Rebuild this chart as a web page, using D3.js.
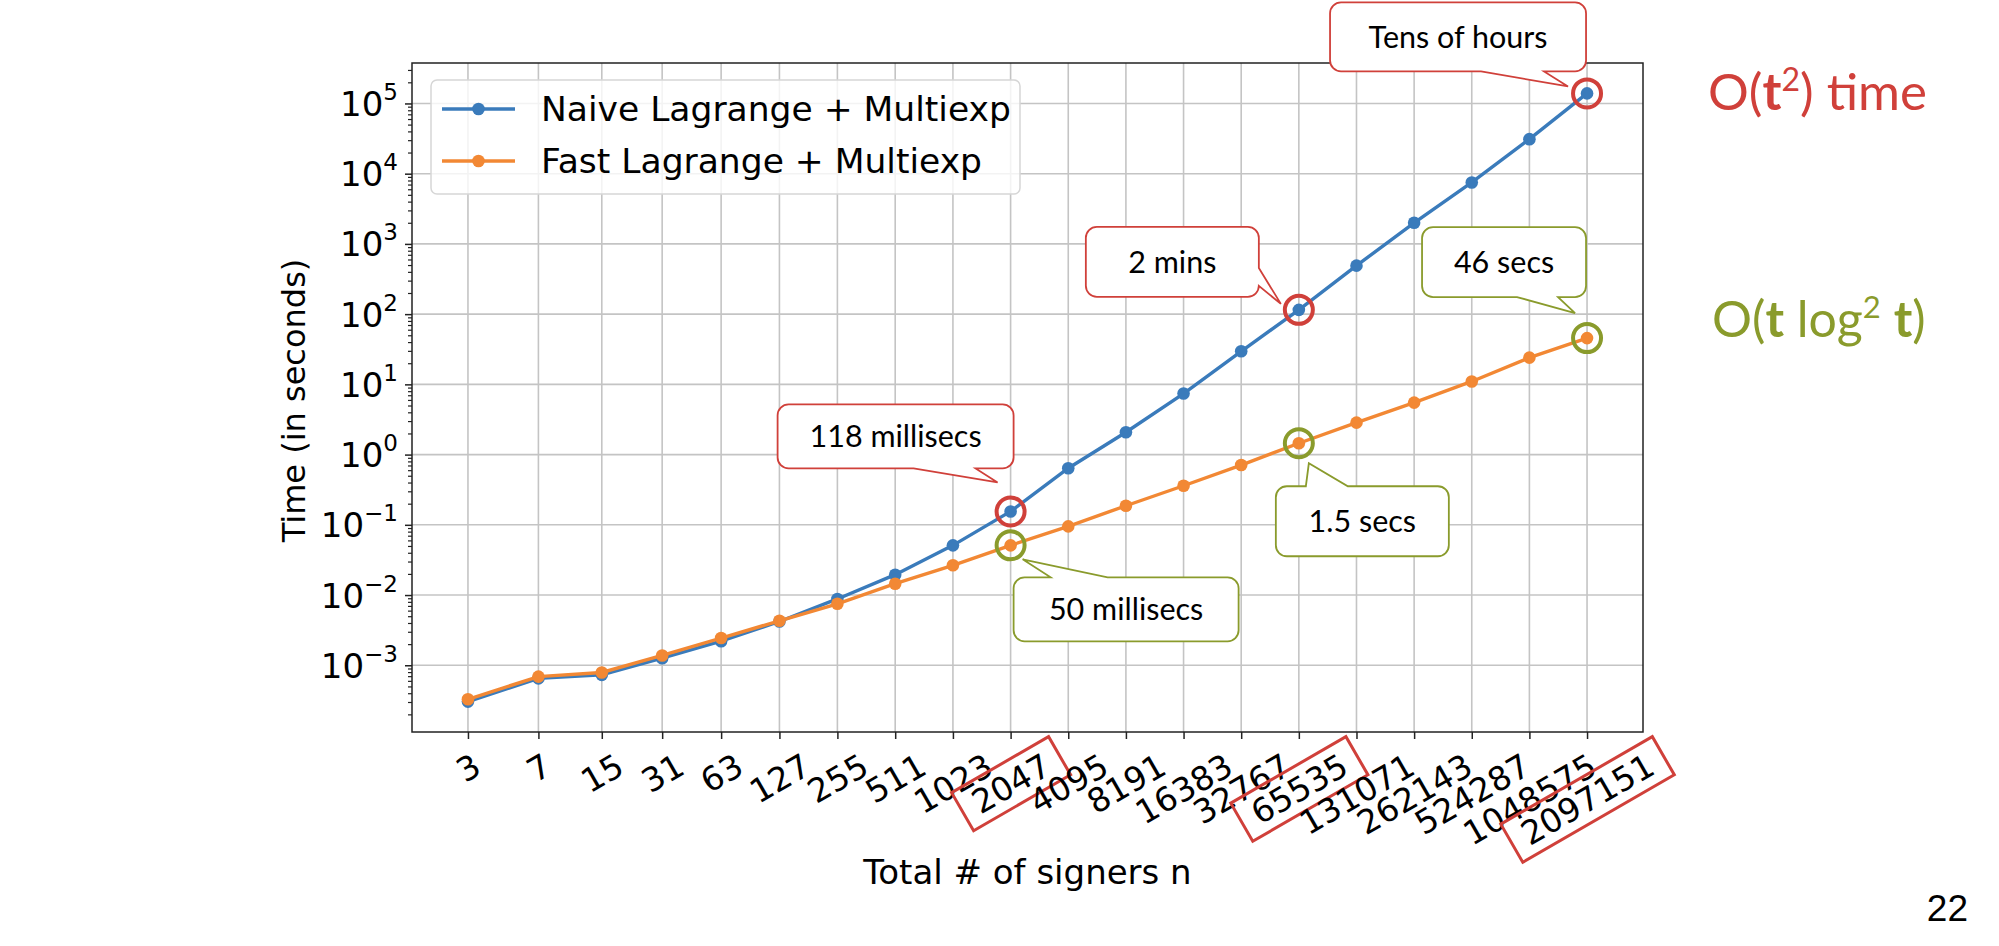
<!DOCTYPE html>
<html>
<head>
<meta charset="utf-8">
<title>Lagrange + Multiexp timing</title>
<style>
  body { margin: 0; background: #fff; }
  svg { display: block; }
</style>
</head>
<body>
<script src="https://cdn.jsdelivr.net/npm/d3@7"></script>
<script>
// values
const signers = [3, 7, 15, 31, 63, 127, 255, 511, 1023, 2047, 4095, 8191,
  16383, 32767, 65535, 131071, 262143, 524287, 1048575, 2097151];
const naiveTimes = [3.04e-4, 6.5e-4, 7.3e-4, 1.26e-3, 2.2e-3, 4.2e-3, 8.8e-3,
  0.0195, 0.051, 0.155, 0.64, 2.08, 7.4, 29.6, 115, 490, 2000, 7500, 31000, 139000];
const fastTimes = [3.28e-4, 6.9e-4, 7.9e-4, 1.38e-3, 2.44e-3, 4.3e-3, 7.5e-3,
  0.0145, 0.0265, 0.051, 0.095, 0.187, 0.36, 0.71, 1.45, 2.85, 5.5, 11, 24, 45.6];
const seriesNames = ["Naive Lagrange + Multiexp", "Fast Lagrange + Multiexp"];
const yMajorExps = [-3, -2, -1, 0, 1, 2, 3, 4, 5];
const highlighted = [2047, 65535, 2097151];

const W = 1999, H = 946;
const plotL = 412, plotR = 1643, plotT = 63, plotB = 732;
const blue = "#3a7bbb", orange = "#f28834";
const red = "#d0403a", olive = "#8a9b2c";
const mplFont = "DejaVu Sans";
const fs = 34;

// callouts: box [dx, dy, w, h] relative to the marked point, tail base and tip too
const callouts = [
  {text: "Tens of hours", s: 0, n: 2097151, color: red, box: [-257, -91, 256, 69], side: "bottom", base: [-106, -43], tip: [-19, -7]},
  {text: "2 mins", s: 0, n: 65535, color: red, box: [-213, -83, 173, 70], side: "right", base: [-42, -24], tip: [-18, -6]},
  {text: "46 secs", s: 1, n: 2097151, color: olive, box: [-165, -111, 164, 70], side: "bottom", base: [-70, -29], tip: [-12, -25]},
  {text: "118 millisecs", s: 0, n: 2047, color: red, box: [-233, -107, 236, 64], side: "bottom", base: [-97, -35], tip: [-13, -29]},
  {text: "50 millisecs", s: 1, n: 2047, color: olive, box: [3, 32, 225, 64], side: "top", base: [40, 97], tip: [12, 14]},
  {text: "1.5 secs", s: 1, n: 65535, color: olive, box: [-23, 43, 173, 70], side: "top", base: [7, 49], tip: [10, 20]}
];

const svg = d3.select("body").append("svg").attr("width", W).attr("height", H);

// log axes with matplotlib-like 5% margins
const lx = d3.extent(signers).map(Math.log2);
const mx = (lx[1] - lx[0]) * 0.05;
const x = d3.scaleLog().base(2)
  .domain([Math.pow(2, lx[0] - mx), Math.pow(2, lx[1] + mx)])
  .range([plotL, plotR]);

const ly = d3.extent(naiveTimes.concat(fastTimes)).map(Math.log10);
const my = (ly[1] - ly[0]) * 0.05;
const y = d3.scaleLog()
  .domain([Math.pow(10, ly[0] - my), Math.pow(10, ly[1] + my)])
  .range([plotB, plotT]);

const series = [naiveTimes, fastTimes];
const colors = [blue, orange];
const yMajors = yMajorExps.map(e => Math.pow(10, e));

// grid
const grid = svg.append("g").attr("stroke", "#c4c4c4").attr("stroke-width", 1.6);
grid.selectAll(".vx").data(signers).enter().append("line")
  .attr("x1", d => x(d)).attr("x2", d => x(d))
  .attr("y1", plotT).attr("y2", plotB);
grid.selectAll(".hy").data(yMajors).enter().append("line")
  .attr("x1", plotL).attr("x2", plotR)
  .attr("y1", d => y(d)).attr("y2", d => y(d));

// x axis
const xAxisG = svg.append("g").attr("transform", `translate(0,${plotB})`)
  .call(d3.axisBottom(x).tickValues(signers).tickFormat(d => String(d)).tickSize(7));
xAxisG.select(".domain").remove();
xAxisG.selectAll(".tick line").attr("stroke", "#222").attr("stroke-width", 1.5);
xAxisG.selectAll(".tick text")
  .attr("font-family", mplFont).attr("font-size", 33).attr("fill", "#000")
  .each(function () {
    const w = this.getComputedTextLength();
    const h = 33 * 1.17;
    const cy = 14 + (w * 0.5 + h * 0.866) / 2;
    d3.select(this).attr("x", 0).attr("y", 0).attr("dy", null)
      .attr("text-anchor", "middle").attr("dominant-baseline", "central")
      .attr("transform", `translate(0,${cy}) rotate(-30)`);
    this.__w = w;
    this.__cy = cy;
  });

// y axis: minor ticks, major ticks, labels
const yMinors = [];
for (let e = -5; e <= 6; e++) {
  for (let m = 2; m <= 9; m++) {
    const v = m * Math.pow(10, e);
    if (v > y.domain()[0] && v < y.domain()[1]) yMinors.push(v);
  }
}
const yMinorG = svg.append("g").attr("transform", `translate(${plotL},0)`)
  .call(d3.axisLeft(y).tickValues(yMinors).tickFormat("").tickSize(4));
yMinorG.select(".domain").remove();
yMinorG.selectAll(".tick line").attr("stroke", "#222").attr("stroke-width", 1.2);

const yAxisG = svg.append("g").attr("transform", `translate(${plotL},0)`)
  .call(d3.axisLeft(y).tickValues(yMajors).tickFormat("").tickSize(7));
yAxisG.select(".domain").remove();
yAxisG.selectAll(".tick line").attr("stroke", "#222").attr("stroke-width", 1.5);
yAxisG.selectAll(".tick text").remove();
yAxisG.selectAll(".tick").each(function (d, i) {
  const t = d3.select(this).append("text")
    .attr("x", -14).attr("y", 12)
    .attr("text-anchor", "end")
    .attr("font-family", mplFont).attr("font-size", fs).attr("fill", "#000");
  const e = yMajorExps[i];
  t.append("tspan").text("10");
  t.append("tspan").attr("dy", -16).attr("font-size", 23)
    .text(e < 0 ? "\u2212" + Math.abs(e) : String(e));
});

// frame
svg.append("rect").attr("x", plotL).attr("y", plotT)
  .attr("width", plotR - plotL).attr("height", plotB - plotT)
  .attr("fill", "none").attr("stroke", "#222").attr("stroke-width", 1.5);

// lines + markers
const line = d3.line().x((d, i) => x(signers[i])).y(d => y(d));
series.forEach((vals, s) => {
  svg.append("path").datum(vals)
    .attr("d", line).attr("fill", "none")
    .attr("stroke", colors[s]).attr("stroke-width", 3.4);
  svg.append("g").selectAll("circle").data(vals).enter().append("circle")
    .attr("cx", (d, i) => x(signers[i])).attr("cy", d => y(d))
    .attr("r", 6.3).attr("fill", colors[s]);
});

// legend
const legend = svg.append("g");
legend.append("rect").attr("x", 431).attr("y", 80).attr("width", 589).attr("height", 114)
  .attr("rx", 6).attr("fill", "#fff").attr("fill-opacity", 0.8)
  .attr("stroke", "#d6d6d6").attr("stroke-width", 1.5);
seriesNames.forEach((name, s) => {
  const ry = 109 + s * 52;
  legend.append("line").attr("x1", 442).attr("x2", 515).attr("y1", ry).attr("y2", ry)
    .attr("stroke", colors[s]).attr("stroke-width", 3.4);
  legend.append("circle").attr("cx", 478.5).attr("cy", ry).attr("r", 6.3).attr("fill", colors[s]);
  legend.append("text").attr("x", 541).attr("y", ry + 12)
    .attr("font-family", mplFont).attr("font-size", 34.5).attr("fill", "#000")
    .text(name);
});

// axis titles
svg.append("text").attr("x", (plotL + plotR) / 2).attr("y", 884)
  .attr("text-anchor", "middle")
  .attr("font-family", mplFont).attr("font-size", fs).attr("fill", "#000")
  .text("Total # of signers n");
svg.append("text")
  .attr("transform", `translate(305,${(plotT + plotB) / 2 + 3}) rotate(-90)`)
  .attr("text-anchor", "middle")
  .attr("font-family", mplFont).attr("font-size", 32).attr("fill", "#000")
  .text("Time (in seconds)");

// red boxes around highlighted tick labels
xAxisG.selectAll(".tick").filter(d => highlighted.includes(d)).each(function () {
  const txt = d3.select(this).select("text").node();
  const w = txt.__w + 28, h = 44;
  d3.select(this).append("rect")
    .attr("transform", `translate(0,${txt.__cy}) rotate(-30)`)
    .attr("x", -w / 2).attr("y", -h / 2).attr("width", w).attr("height", h)
    .attr("fill", "none").attr("stroke", red).attr("stroke-width", 3);
});

// circles round highlighted points
series.forEach((vals, s) => {
  svg.append("g").selectAll("circle")
    .data(signers.map((n, i) => ({n, v: vals[i]})).filter(d => highlighted.includes(d.n)))
    .enter().append("circle")
    .attr("cx", d => x(d.n)).attr("cy", d => y(d.v)).attr("r", 14)
    .attr("fill", "none").attr("stroke", s === 0 ? red : olive).attr("stroke-width", 4);
});

// callouts
function calloutPath(x0, y0, w, h, r, side, b0, b1, tx, ty) {
  const x1 = x0 + w, y1 = y0 + h;
  const p = d3.path();
  p.moveTo(x0 + r, y0);
  if (side === "top") { p.lineTo(b0, y0); p.lineTo(tx, ty); p.lineTo(b1, y0); }
  p.lineTo(x1 - r, y0);
  p.arcTo(x1, y0, x1, y0 + r, r);
  if (side === "right") { p.lineTo(x1, b0); p.lineTo(tx, ty); p.lineTo(x1, b1); }
  p.lineTo(x1, y1 - r);
  p.arcTo(x1, y1, x1 - r, y1, r);
  if (side === "bottom") { p.lineTo(b1, y1); p.lineTo(tx, ty); p.lineTo(b0, y1); }
  p.lineTo(x0 + r, y1);
  p.arcTo(x0, y1, x0, y1 - r, r);
  p.lineTo(x0, y0 + r);
  p.arcTo(x0, y0, x0 + r, y0, r);
  p.closePath();
  return p.toString();
}

callouts.forEach(c => {
  const i = signers.indexOf(c.n);
  const px = x(c.n), py = y(series[c.s][i]);
  const bx = px + c.box[0], by = py + c.box[1];
  const horiz = c.side !== "right";
  const b0 = (horiz ? px : py) + c.base[0];
  const b1 = (horiz ? px : py) + c.base[1];
  const g = svg.append("g");
  g.append("path")
    .attr("d", calloutPath(bx, by, c.box[2], c.box[3], 11, c.side, b0, b1, px + c.tip[0], py + c.tip[1]))
    .attr("fill", "#fff").attr("stroke", c.color).attr("stroke-width", 1.8);
  g.append("text").attr("x", bx + c.box[2] / 2).attr("y", by + c.box[3] / 2 + 11)
    .attr("text-anchor", "middle")
    .attr("font-family", "Lato").attr("font-size", 30.5).attr("fill", "#000")
    .text(c.text);
});

// complexity notes on the right
const t1 = svg.append("text").attr("x", 1708).attr("y", 110)
  .attr("font-family", "Lato").attr("font-size", 51).attr("fill", red);
t1.append("tspan").text("O(");
t1.append("tspan").attr("font-weight", "bold").text("t");
t1.append("tspan").attr("dy", -19).attr("font-size", 32).text("2");
t1.append("tspan").attr("dy", 19).text(") time");

const t2 = svg.append("text").attr("x", 1712).attr("y", 337)
  .attr("font-family", "Lato").attr("font-size", 50).attr("fill", olive);
t2.append("tspan").text("O(");
t2.append("tspan").attr("font-weight", "bold").text("t");
t2.append("tspan").text(" log");
t2.append("tspan").attr("dy", -19).attr("font-size", 31).text("2");
t2.append("tspan").attr("dy", 19).text(" ");
t2.append("tspan").attr("font-weight", "bold").text("t");
t2.append("tspan").text(")");

// slide number
svg.append("text").attr("x", 1968).attr("y", 921).attr("text-anchor", "end")
  .attr("font-family", "Liberation Sans").attr("font-size", 37).attr("fill", "#000")
  .text("22");
</script>
</body>
</html>
